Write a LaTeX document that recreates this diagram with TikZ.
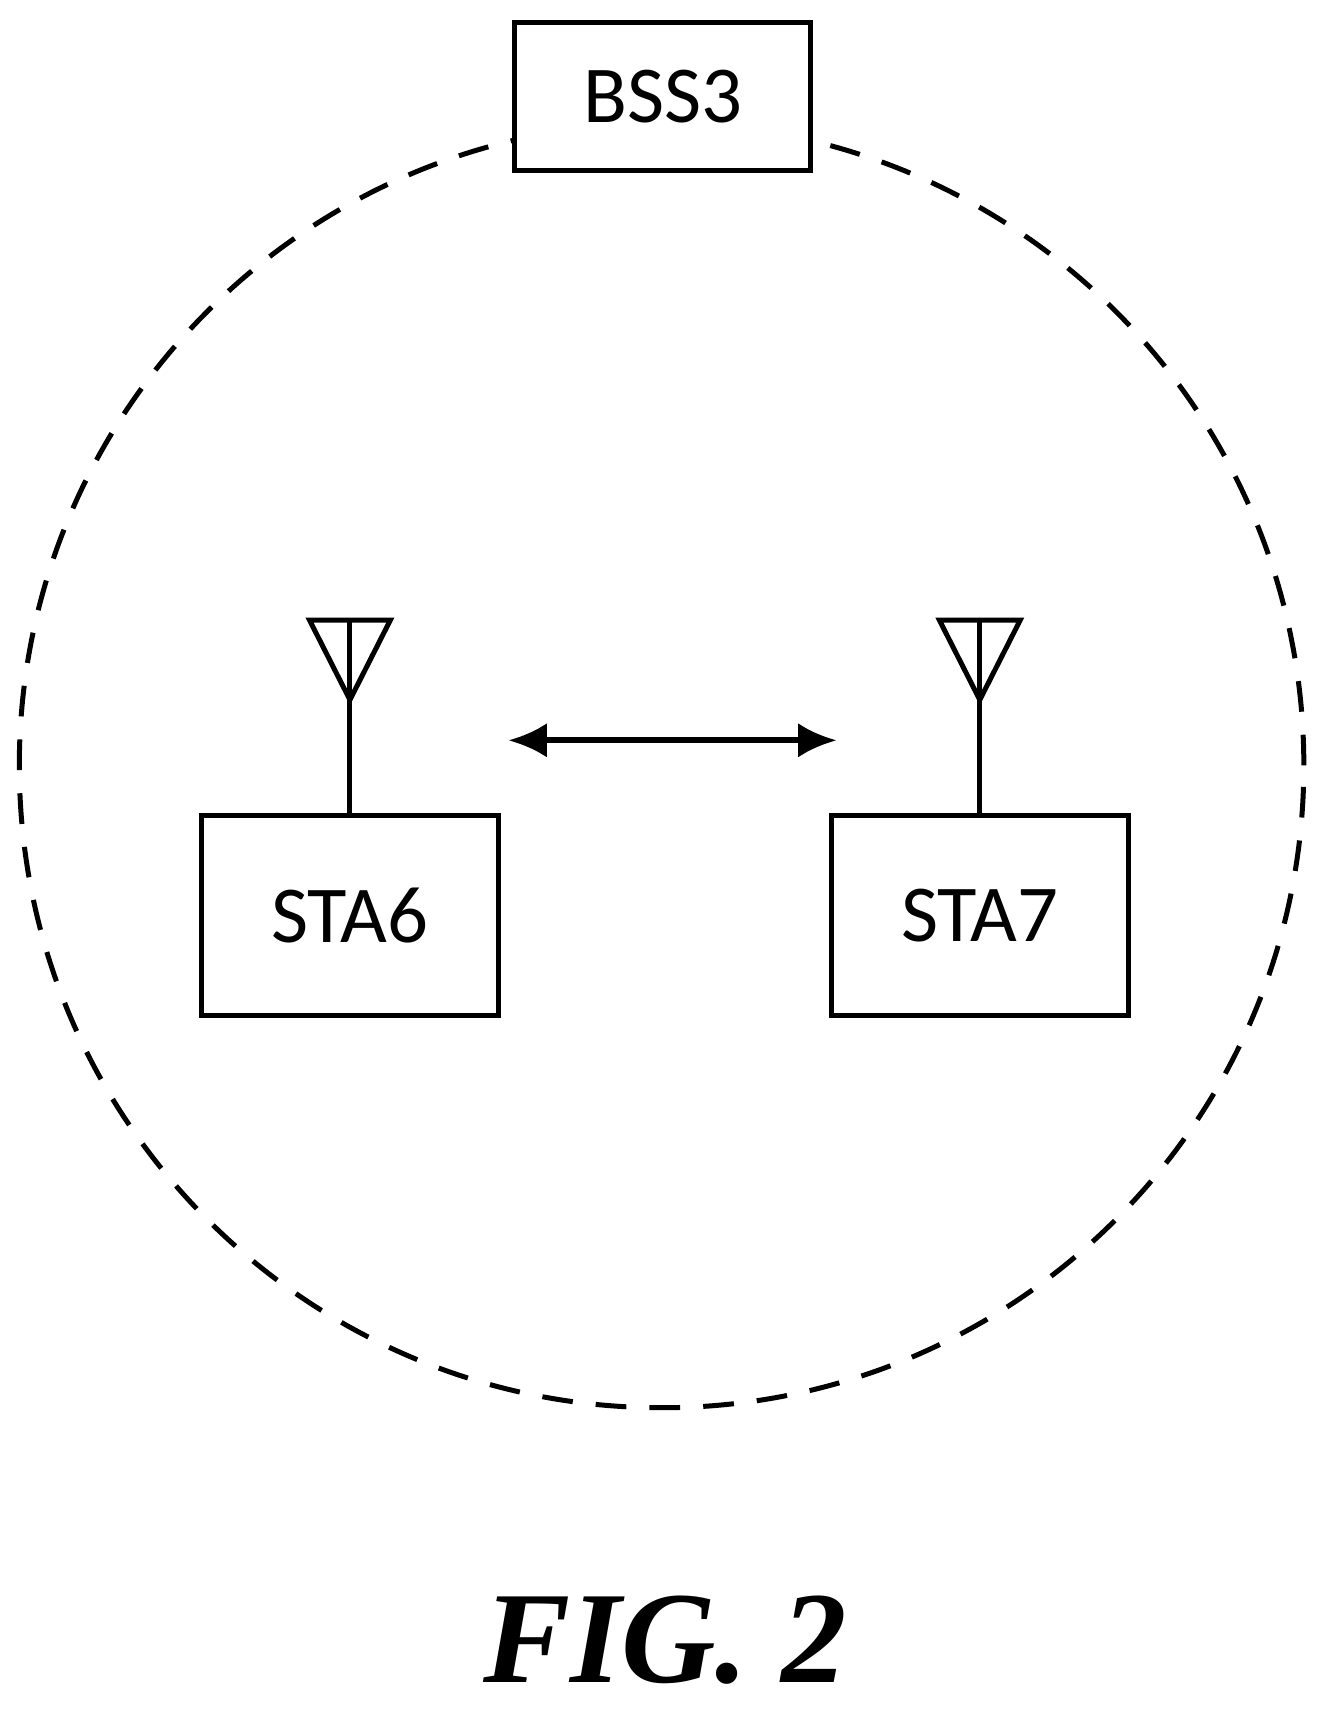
\documentclass[tikz,border=0pt]{standalone}
\usepackage{fontspec}
\setmainfont{Carlito}
\newfontfamily\figfont{Liberation Serif}
\usetikzlibrary{positioning,arrows.meta}
\tikzset{box/.style={draw,line width=1.3pt,minimum width=2.71cm,minimum height=1.83cm,font=\fontsize{21}{24}\selectfont}}
\begin{document}
\begin{tikzpicture}[x=0.01cm,y=-0.01cm,line width=1.3pt]
  \useasboundingbox (0,0) rectangle (1215,1572);

  \draw [dash pattern=on 8pt off 6pt] (605,700) circle (5.87cm);

  \node [box,fill=white,minimum height=1.35cm] (bss) at (606,88) {BSS3};
  \node [box] (sta6) at (320,837) {STA6};
  \node [box] (sta7) at (896,837) {STA7};

  % antennas
  \foreach \s/\x in {sta6/320,sta7/896} {
    \coordinate (\s tip) at (\x,640);
    \draw (\s.north) -- (\s tip);
    \draw (\s tip) -- (\x-37,567) -- (\x+37,567) -- cycle;
    \draw (\s tip) -- (\x,567);
  }

  \coordinate (left) at (465,677);
  \coordinate (right) at (765,677);
  \draw [{Latex[length=10pt,width=9pt]}-{Latex[length=10pt,width=9pt]},line width=1.5pt] (left) -- (right);

  \node (fig) at (608,1500) {\figfont\bfseries\itshape\fontsize{34}{38}\selectfont FIG. 2};
\end{tikzpicture}
\end{document}
